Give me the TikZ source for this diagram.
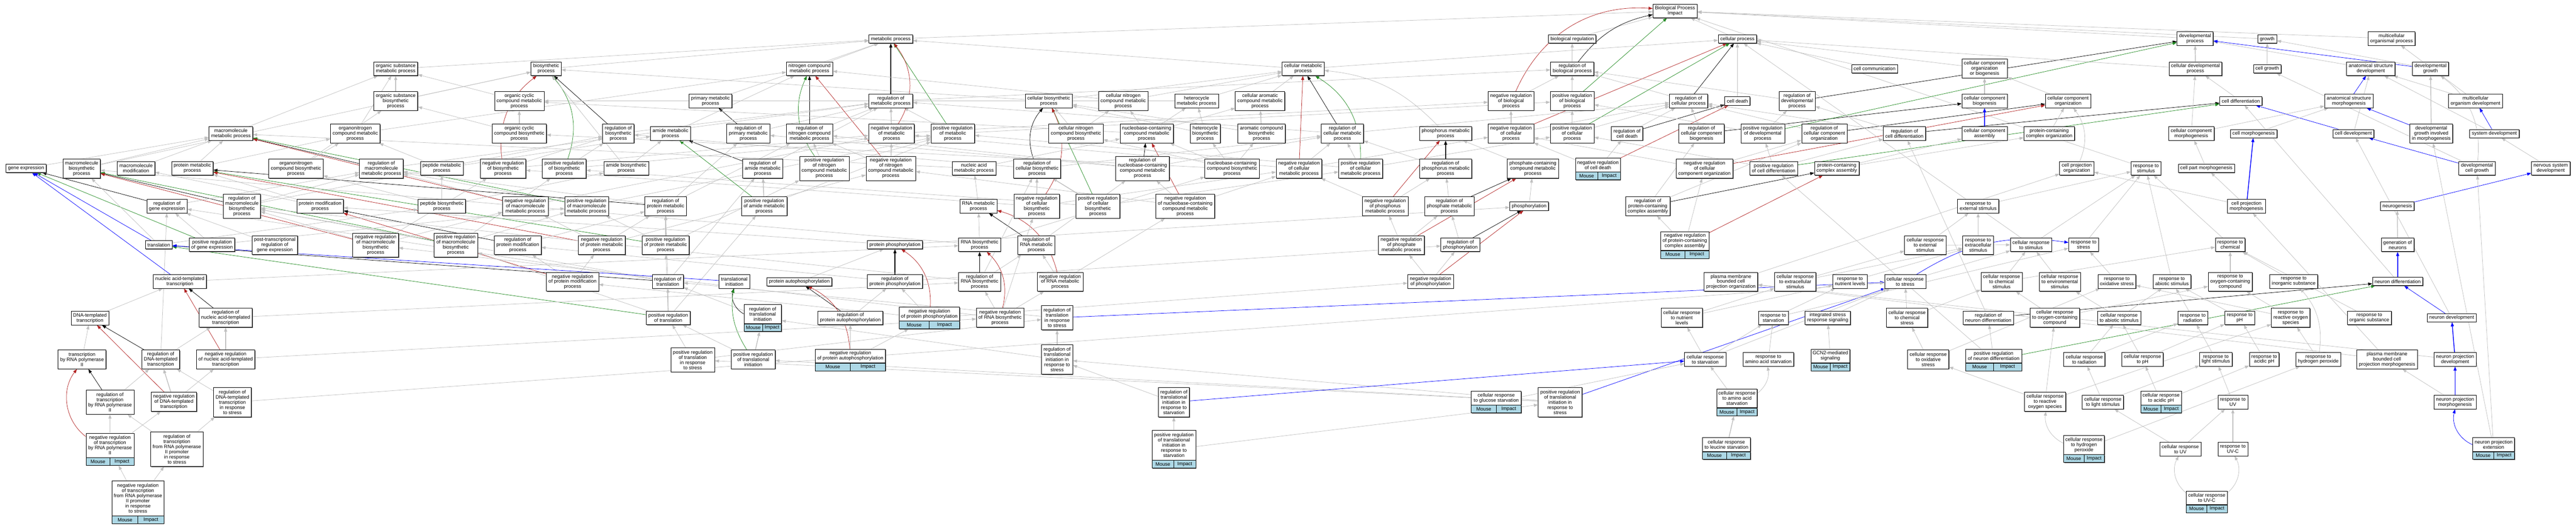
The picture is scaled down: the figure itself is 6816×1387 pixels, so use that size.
\documentclass[tikz,border=0pt]{standalone}
\usepackage{fontspec}
\setmainfont{Liberation Sans}
\usetikzlibrary{arrows.meta,shadows,fit}
\pgfdeclarelayer{bgfill}
\pgfdeclarelayer{edges}
\pgfsetlayers{bgfill,edges,main}
\definecolor{isagray}{RGB}{192,192,192}
\definecolor{negred}{RGB}{178,34,34}
\definecolor{posgreen}{RGB}{34,139,34}
\definecolor{partblue}{RGB}{0,0,255}
\definecolor{miblue}{RGB}{173,216,230}
\newcommand\gofont{\fontsize{13pt}{13.6pt}\selectfont}
\tikzset{
  goshadow/.style={drop shadow={shadow xshift=1.6pt,shadow yshift=-1.6pt,fill=black!60,opacity=1}},
  gobox/.style={draw=black,line width=1pt,fill=white,align=center,font=\gofont,inner xsep=5.5pt,inner ysep=1pt,goshadow},
  l1/.style={minimum height=22pt},
  l2/.style={minimum height=36pt},
  l3/.style={minimum height=50pt},
  l4/.style={minimum height=64pt},
  l5/.style={minimum height=78pt},
  l6/.style={minimum height=92pt},
  mcell/.style={draw=black,line width=1pt,fill=miblue,font=\gofont,minimum height=20pt,inner sep=0pt,goshadow},
  goedge/.style={line width=1pt,-{Triangle[length=11pt,width=8pt]}},
  eisa/.style={goedge,draw=isagray},
  ereg/.style={goedge,draw=black},
  eneg/.style={goedge,draw=negred},
  epos/.style={goedge,draw=posgreen},
  epart/.style={goedge,draw=partblue},
  thk/.style={line width=2pt},
}
\newcommand\GN[5]{\node[gobox,#4] (#1) at (#2,#3) {#5};}
\newcommand\MI[6]{%
  \node[gobox,#5,minimum width=#4pt,inner xsep=2pt] (#1T) at (#2,#3) {#6};
  \node[mcell,minimum width=#4pt/2,anchor=north west] (#1M) at (#1T.south west) {Mouse};
  \node[mcell,minimum width=#4pt/2,anchor=north east] (#1I) at (#1T.south east) {Impact};
  \node[fit=(#1T)(#1M)(#1I),inner sep=0pt] (#1) {};}
\newcommand\ED[3]{\draw[#1] (#2) to (#3);}
\begin{document}
\begin{tikzpicture}[x=1pt,y=-1pt]
\useasboundingbox (0,0) rectangle (6816,1387);
\begin{pgfonlayer}{bgfill}
\fill[white] (0,0) rectangle (6816,1387);
\end{pgfonlayer}
% ---------------- nodes
\GN{BP}{4432}{29}{l2}{Biological Process\\Impact}
\GN{metab}{2357}{103}{l1}{metabolic process}
\GN{bioreg}{4160}{103}{l1}{biological regulation}
\GN{cellproc}{4597}{103}{l1}{cellular process}
\GN{devproc}{5808}{102}{l2}{developmental\\process}
\GN{growth}{5999}{103}{l1}{growth}
\GN{mcop}{6328}{102}{l2}{multicellular\\organismal process}
\GN{osmp}{1047}{182}{l2}{organic substance\\metabolic process}
\GN{biosyn}{1445}{182}{l2}{biosynthetic\\process}
\GN{ncmp}{2142}{182}{l2}{nitrogen compound\\metabolic process}
\GN{cellmetab}{3448}{182}{l2}{cellular metabolic\\process}
\GN{regbio}{4160}{182}{l2}{regulation of\\biological process}
\GN{cellcomm}{4960}{182}{l1}{cell communication}
\GN{ccoob}{5251}{181}{l3}{cellular component\\organization\\or biogenesis}
\GN{celldevproc}{5809}{182}{l2}{cellular developmental\\process}
\GN{cellgrowth}{5999}{182}{l1}{cell growth}
\GN{asd}{6273}{182}{l2}{anatomical structure\\development}
\GN{devgrowth}{6431}{182}{l2}{developmental\\growth}
\GN{osb}{1047}{267}{l3}{organic substance\\biosynthetic\\process}
\GN{ocmp}{1374}{267}{l3}{organic cyclic\\compound metabolic\\process}
\GN{primary}{1880}{267}{l2}{primary metabolic\\process}
\GN{regmetab}{2357}{267}{l2}{regulation of\\metabolic process}
\GN{cellbiosyn}{2775}{267}{l2}{cellular biosynthetic\\process}
\GN{cncmp}{2972}{267}{l3}{cellular nitrogen\\compound metabolic\\process}
\GN{hetmp}{3166}{267}{l2}{heterocycle\\metabolic process}
\GN{camp}{3334}{267}{l3}{cellular aromatic\\compound metabolic\\process}
\GN{negregbio}{3998}{267}{l3}{negative regulation\\of biological\\process}
\GN{posregbio}{4160}{267}{l3}{positive regulation\\of biological\\process}
\GN{regcellproc}{4468}{267}{l2}{regulation of\\cellular process}
\GN{celldeath}{4597}{267}{l1}{cell death}
\GN{regdev}{4755}{267}{l3}{regulation of\\developmental\\process}
\GN{ccb}{5251}{267}{l2}{cellular component\\biogenesis}
\GN{cco}{5472}{267}{l2}{cellular component\\organization}
\GN{celldiff}{5929}{267}{l1}{cell differentiation}
\GN{asm}{6215}{267}{l2}{anatomical structure\\morphogenesis}
\GN{mod}{6550}{267}{l2}{multicellular\\organism development}
\GN{mmp}{611}{353}{l2}{macromolecule\\metabolic process}
\GN{onmp}{940}{353}{l3}{organonitrogen\\compound metabolic\\process}
\GN{ocb}{1374}{353}{l3}{organic cyclic\\compound biosynthetic\\process}
\GN{regbiosyn}{1636}{353}{l3}{regulation of\\biosynthetic\\process}
\GN{amide}{1774}{353}{l2}{amide metabolic\\process}
\GN{regprimary}{1980}{353}{l3}{regulation of\\primary metabolic\\process}
\GN{regncmp}{2142}{353}{l3}{regulation of\\nitrogen compound\\metabolic process}
\GN{negregmetab}{2359}{353}{l3}{negative regulation\\of metabolic\\process}
\GN{posregmetab}{2521}{353}{l3}{positive regulation\\of metabolic\\process}
\GN{cncb}{2847}{353}{l3}{cellular nitrogen\\compound biosynthetic\\process}
\GN{ncmpnuc}{3034}{353}{l3}{nucleobase-containing\\compound metabolic\\process}
\GN{hetb}{3189}{353}{l3}{heterocycle\\biosynthetic\\process}
\GN{acb}{3338}{353}{l3}{aromatic compound\\biosynthetic\\process}
\GN{regcellmetab}{3552}{353}{l3}{regulation of\\cellular metabolic\\process}
\GN{phosphorus}{3825}{353}{l2}{phosphorus metabolic\\process}
\GN{negregcell}{3998}{353}{l3}{negative regulation\\of cellular\\process}
\GN{posregcell}{4160}{353}{l3}{positive regulation\\of cellular\\process}
\GN{regcelldeath}{4305}{353}{l2}{regulation of\\cell death}
\GN{regccb}{4502}{353}{l3}{regulation of\\cellular component\\biogenesis}
\GN{posregdev}{4664}{353}{l3}{positive regulation\\of developmental\\process}
\GN{regcco}{4827}{353}{l3}{regulation of\\cellular component\\organization}
\GN{regcelldiff}{5039}{353}{l2}{regulation of\\cell differentiation}
\GN{cca}{5251}{353}{l2}{cellular component\\assembly}
\GN{pcco}{5422}{353}{l2}{protein-containing\\complex organization}
\GN{ccm}{5798}{353}{l2}{cellular component\\morphogenesis}
\GN{cellmorph}{5963}{353}{l1}{cell morphogenesis}
\GN{celldev}{6227}{353}{l1}{cell development}
\GN{dgim}{6433}{353}{l3}{developmental\\growth involved\\in morphogenesis}
\GN{sysdev}{6600}{353}{l1}{system development}
\GN{geneexp}{69}{445}{l1}{gene expression}
\GN{mbp}{216}{446}{l3}{macromolecule\\biosynthetic\\process}
\GN{macromod}{360}{445}{l2}{macromolecule\\modification}
\GN{protmp}{509}{445}{l2}{protein metabolic\\process}
\GN{onb}{783}{446}{l3}{organonitrogen\\compound biosynthetic\\process}
\GN{regmmp}{1009}{446}{l3}{regulation of\\macromolecule\\metabolic process}
\GN{peptidemp}{1169}{445}{l2}{peptide metabolic\\process}
\GN{negregbiosyn}{1331}{446}{l3}{negative regulation\\of biosynthetic\\process}
\GN{posregbiosyn}{1493}{446}{l3}{positive regulation\\of biosynthetic\\process}
\GN{amideb}{1657}{445}{l2}{amide biosynthetic\\process}
\GN{regamide}{2018}{446}{l3}{regulation of\\amide metabolic\\process}
\GN{posregncmp}{2181}{445}{l4}{positive regulation\\of nitrogen\\compound metabolic\\process}
\GN{negregncmp}{2357}{445}{l4}{negative regulation\\of nitrogen\\compound metabolic\\process}
\GN{namp}{2577}{445}{l2}{nucleic acid\\metabolic process}
\GN{regcellbiosyn}{2744}{446}{l3}{regulation of\\cellular biosynthetic\\process}
\GN{regnuc}{3023}{445}{l4}{regulation of\\nucleobase-containing\\compound metabolic\\process}
\GN{nucb}{3260}{446}{l3}{nucleobase-containing\\compound biosynthetic\\process}
\GN{negregcellmetab}{3437}{446}{l3}{negative regulation\\of cellular\\metabolic process}
\GN{posregcellmetab}{3600}{446}{l3}{positive regulation\\of cellular\\metabolic process}
\GN{regphosphorus}{3825}{446}{l3}{regulation of\\phosphorus metabolic\\process}
\GN{pccmp}{4056}{446}{l3}{phosphate-containing\\compound metabolic\\process}
\MI{negregcelldeath}{4228}{436}{119}{l2}{negative regulation\\of cell death}
\GN{negregcco}{4510}{446}{l3}{negative regulation\\of cellular\\component organization}
\GN{posregcelldiff}{4693}{445}{l2}{positive regulation\\of cell differentiation}
\GN{pcca}{4860}{445}{l2}{protein-containing\\complex assembly}
\GN{cpo}{5495}{445}{l2}{cell projection\\organization}
\GN{respstim}{5678}{445}{l2}{response to\\stimulus}
\GN{cellpartmorph}{5838}{445}{l1}{cell part morphogenesis}
\GN{devcellgrowth}{6554}{445}{l2}{developmental\\cell growth}
\GN{nsd}{6749}{445}{l2}{nervous system\\development}
\GN{reggene}{442}{545}{l2}{regulation of\\gene expression}
\GN{regmbp}{640}{545}{l4}{regulation of\\macromolecule\\biosynthetic\\process}
\GN{protmod}{847}{545}{l2}{protein modification\\process}
\GN{peptideb}{1169}{545}{l2}{peptide biosynthetic\\process}
\GN{negregmmp}{1390}{545}{l3}{negative regulation\\of macromolecule\\metabolic process}
\GN{posregmmp}{1552}{545}{l3}{positive regulation\\of macromolecule\\metabolic process}
\GN{regprotmp}{1761}{545}{l3}{regulation of\\protein metabolic\\process}
\GN{posregamide}{2022}{545}{l3}{positive regulation\\of amide metabolic\\process}
\GN{rnamp}{2589}{545}{l2}{RNA metabolic\\process}
\GN{negregcellbiosyn}{2743}{545}{l4}{negative regulation\\of cellular\\biosynthetic\\process}
\GN{posregcellbiosyn}{2905}{545}{l4}{positive regulation\\of cellular\\biosynthetic\\process}
\GN{negregnuc}{3136}{545}{l4}{negative regulation\\of nucleobase-containing\\compound metabolic\\process}
\GN{negregphosphorus}{3665}{545}{l3}{negative regulation\\of phosphorus\\metabolic process}
\GN{regphosphate}{3835}{545}{l3}{regulation of\\phosphate metabolic\\process}
\GN{phosphorylation}{4046}{545}{l1}{phosphorylation}
\GN{regpcca}{4360}{545}{l3}{regulation of\\protein-containing\\complex assembly}
\GN{respext}{5234}{545}{l2}{response to\\external stimulus}
\GN{cellprojmorph}{5944}{545}{l2}{cell projection\\morphogenesis}
\GN{neurogenesis}{6343}{545}{l1}{neurogenesis}
\GN{translation}{420}{647}{l1}{translation}
\GN{posreggene}{561}{647}{l2}{positive regulation\\of gene expression}
\GN{ptrge}{727}{648}{l3}{post-transcriptional\\regulation of\\gene expression}
\GN{negregmbp}{994}{648}{l4}{negative regulation\\of macromolecule\\biosynthetic\\process}
\GN{posregmbp}{1206}{648}{l4}{positive regulation\\of macromolecule\\biosynthetic\\process}
\GN{regprotmod}{1370}{648}{l3}{regulation of\\protein modification\\process}
\GN{negregprotmp}{1592}{648}{l3}{negative regulation\\of protein metabolic\\process}
\GN{posregprotmp}{1761}{648}{l3}{positive regulation\\of protein metabolic\\process}
\GN{protphos}{2368}{647}{l1}{protein phosphorylation}
\GN{rnab}{2592}{647}{l2}{RNA biosynthetic\\process}
\GN{regrnamp}{2742}{648}{l3}{regulation of\\RNA metabolic\\process}
\GN{negregphosphate}{3708}{648}{l3}{negative regulation\\of phosphate\\metabolic process}
\GN{regphosphorylation}{3864}{647}{l2}{regulation of\\phosphorylation}
\MI{negregpcca}{4458}{637}{127}{l3}{negative regulation\\of protein-containing\\complex assembly}
\GN{crext}{5094}{648}{l3}{cellular response\\to external\\stimulus}
\GN{respextra}{5234}{648}{l3}{response to\\extracellular\\stimulus}
\GN{crstim}{5374}{647}{l2}{cellular response\\to stimulus}
\GN{respstress}{5513}{647}{l2}{response to\\stress}
\GN{respchem}{5901}{647}{l2}{response to\\chemical}
\GN{genneurons}{6344}{647}{l2}{generation of\\neurons}
\GN{natt}{476}{744}{l2}{nucleic acid-templated\\transcription}
\GN{negregprotmod}{1515}{745}{l3}{negative regulation\\of protein modification\\process}
\GN{regtranslation}{1767}{744}{l2}{regulation of\\translation}
\GN{transinit}{1943}{744}{l2}{translational\\initiation}
\GN{protautop}{2115}{745}{l1}{protein autophosphorylation}
\GN{regprotphos}{2368}{744}{l2}{regulation of\\protein phosphorylation}
\GN{regrnab}{2592}{745}{l3}{regulation of\\RNA biosynthetic\\process}
\GN{negregrnamp}{2805}{745}{l3}{negative regulation\\of RNA metabolic\\process}
\GN{negregphosphorylation}{3785}{744}{l2}{negative regulation\\of phosphorylation}
\GN{pmbcpo}{4580}{745}{l3}{plasma membrane\\bounded cell\\projection organization}
\GN{crextra}{4750}{745}{l3}{cellular response\\to extracellular\\stimulus}
\GN{respnutr}{4895}{744}{l2}{response to\\nutrient levels}
\GN{crstress}{5041}{744}{l2}{cellular response\\to stress}
\GN{crchemstim}{5296}{745}{l3}{cellular response\\to chemical\\stimulus}
\GN{crenv}{5450}{745}{l3}{cellular response\\to environmental\\stimulus}
\GN{respox}{5601}{744}{l2}{response to\\oxidative stress}
\GN{respabiotic}{5747}{744}{l2}{response to\\abiotic stimulus}
\GN{respoxy}{5901}{745}{l3}{response to\\oxygen-containing\\compound}
\GN{respinorg}{6069}{744}{l2}{response to\\inorganic substance}
\GN{neurondiff}{6344}{744}{l1}{neuron differentiation}
\GN{dnatt}{238}{841}{l2}{DNA-templated\\transcription}
\GN{regnatt}{597}{840}{l3}{regulation of\\nucleic acid-templated\\transcription}
\GN{posregtranslation}{1768}{840}{l2}{positive regulation\\of translation}
\MI{regtransinit}{2018}{830}{99}{l3}{regulation of\\translational\\initiation}
\GN{regprotautop}{2250}{840}{l2}{regulation of\\protein autophosphorylation}
\MI{negregprotphos}{2459}{830}{160}{l2}{negative regulation\\of protein phosphorylation}
\GN{negregrnab}{2646}{840}{l3}{negative regulation\\of RNA biosynthetic\\process}
\GN{regtransstress}{2797}{840}{l4}{regulation of\\translation\\in response\\to stress}
\GN{crnutr}{4450}{840}{l3}{cellular response\\to nutrient\\levels}
\GN{respstarv}{4692}{840}{l2}{response to\\starvation}
\GN{isr}{4836}{840}{l2}{integrated stress\\response signaling}
\GN{crchemstress}{5046}{840}{l3}{cellular response\\to chemical\\stress}
\GN{regneurondiff}{5261}{840}{l2}{regulation of\\neuron differentiation}
\GN{croxy}{5437}{840}{l3}{cellular response\\to oxygen-containing\\compound}
\GN{crabiotic}{5607}{840}{l2}{cellular response\\to abiotic stimulus}
\GN{respradiation}{5802}{840}{l2}{response to\\radiation}
\GN{respph}{5926}{840}{l2}{response to\\pH}
\GN{resproS}{6061}{840}{l3}{response to\\reactive oxygen\\species}
\GN{resporg}{6269}{840}{l2}{response to\\organic substance}
\GN{neurondev}{6487}{840}{l1}{neuron development}
\GN{txpol2}{217}{950}{l3}{transcription\\by RNA polymerase\\II}
\GN{regdnatt}{425}{950}{l3}{regulation of\\DNA-templated\\transcription}
\GN{negregnatt}{597}{950}{l3}{negative regulation\\of nucleic acid-templated\\transcription}
\GN{posregtransstress}{1833}{951}{l4}{positive regulation\\of translation\\in response\\to stress}
\GN{posregtransinit}{1993}{950}{l3}{positive regulation\\of translational\\initiation}
\MI{negregprotautop}{2250}{941}{186}{l2}{negative regulation\\of protein autophosphorylation}
\GN{regtistress}{2797}{950}{l5}{regulation of\\translational\\initiation in\\response to\\stress}
\GN{crstarv}{4512}{950}{l2}{cellular response\\to starvation}
\GN{respaa}{4679}{950}{l2}{response to\\amino acid starvation}
\MI{gcn2}{4843}{941}{103}{l2}{GCN2-mediated\\signaling}
\GN{croxstress}{5102}{950}{l3}{cellular response\\to oxidative\\stress}
\MI{posregneurondiff}{5275}{941}{148}{l2}{positive regulation\\of neuron differentiation}
\GN{crradiation}{5515}{950}{l2}{cellular response\\to radiation}
\GN{crph}{5669}{950}{l2}{cellular response\\to pH}
\GN{resplight}{5863}{950}{l2}{response to\\light stimulus}
\GN{respacidic}{5991}{950}{l2}{response to\\acidic pH}
\GN{resph2o2}{6134}{950}{l2}{response to\\hydrogen peroxide}
\GN{pmbcpm}{6316}{950}{l3}{plasma membrane\\bounded cell\\projection morphogenesis}
\GN{neuronprojdev}{6496}{950}{l2}{neuron projection\\development}
\GN{regtxpol2}{291}{1063}{l4}{regulation of\\transcription\\by RNA polymerase\\II}
\GN{negregdnatt}{460}{1062}{l3}{negative regulation\\of DNA-templated\\transcription}
\GN{regdnattstress}{615}{1063}{l5}{regulation of\\DNA-templated\\transcription\\in response\\to stress}
\GN{regtistarv}{3106}{1063}{l5}{regulation of\\translational\\initiation in\\response to\\starvation}
\MI{crglucose}{3959}{1052}{132}{l2}{cellular response\\to glucose starvation}
\GN{posregtistress}{4128}{1063}{l5}{positive regulation\\of translational\\initiation in\\response to\\stress}
\MI{craa}{4596}{1053}{107}{l3}{cellular response\\to amino acid\\starvation}
\GN{crros}{5411}{1062}{l3}{cellular response\\to reactive\\oxygen species}
\GN{crlight}{5564}{1063}{l2}{cellular response\\to light stimulus}
\MI{cracidic}{5718}{1052}{108}{l2}{cellular response\\to acidic pH}
\GN{respuv}{5908}{1063}{l2}{response to\\UV}
\GN{neuronprojmorph}{6496}{1063}{l2}{neuron projection\\morphogenesis}
\MI{negregtxpol2}{291}{1177}{127}{l4}{negative regulation\\of transcription\\by RNA polymerase\\II}
\GN{regtxpol2stress}{468}{1187}{l6}{regulation of\\transcription\\from RNA polymerase\\II promoter\\in response\\to stress}
\MI{posregtistarv}{3106}{1177}{116}{l5}{positive regulation\\of translational\\initiation in\\response to\\starvation}
\MI{crleucine}{4568}{1175}{127}{l2}{cellular response\\to leucine starvation}
\MI{crhtwoo}{5514}{1176}{108}{l3}{cellular response\\to hydrogen\\peroxide}
\GN{cruv}{5769}{1187}{l2}{cellular response\\to UV}
\GN{respuvc}{5908}{1187}{l2}{response to\\UV-C}
\MI{neuronprojext}{6598}{1175}{111}{l2}{neuron projection\\extension}
\MI{negregtxstress}{365}{1317}{137}{l6}{negative regulation\\of transcription\\from RNA polymerase\\II promoter\\in response\\to stress}
\MI{cruvc}{5839}{1316}{108}{l2}{cellular response\\to UV-C}
% ---------------- edges
\begin{pgfonlayer}{edges}
\ED{eisa}{metab}{BP}
\ED{eisa}{bioreg}{BP}
\ED{eisa}{cellproc}{BP}
\ED{eisa}{devproc}{BP}
\ED{eisa}{growth}{BP}
\ED{eisa}{mcop}{BP}
\ED{eisa}{respstim}{BP}
\ED{ereg,bend left=20}{regbio}{BP}
\ED{eneg,bend left=35}{negregbio}{BP}
\ED{epos}{posregbio}{BP}
\ED{eisa,thk}{regbio}{bioreg}
\ED{eisa,thk}{posregbio}{regbio}
\ED{eisa}{negregbio}{regbio}
\ED{eisa}{regcellproc}{regbio}
\ED{ereg}{regcellproc}{cellproc}
\ED{eisa,thk}{posregcell}{posregbio}
\ED{eisa}{posregcell}{regcellproc}
\ED{epos}{posregcell}{cellproc}
\ED{eisa,thk}{negregcell}{negregbio}
\ED{eisa}{negregcell}{regcellproc}
\ED{eneg}{negregcell}{cellproc}
\ED{eisa}{ccoob}{cellproc}
\ED{eisa}{cellcomm}{cellproc}
\ED{eisa,thk}{celldeath}{cellproc}
\ED{eisa}{regmetab}{regbio}
\ED{ereg,thk}{regmetab}{metab}
\ED{eisa}{posregmetab}{regmetab}
\ED{eisa}{posregmetab}{posregbio}
\ED{epos}{posregmetab}{metab}
\ED{eisa,thk}{negregmetab}{regmetab}
\ED{eisa}{negregmetab}{negregbio}
\ED{eneg,bend right=35}{negregmetab}{metab}
\ED{eisa}{cellmetab}{metab}
\ED{eisa}{cellmetab}{cellproc}
\ED{eisa}{primary}{metab}
\ED{eisa}{osmp}{metab}
\ED{eisa}{ncmp}{metab}
\ED{eisa}{biosyn}{metab}
\ED{eisa}{regcellmetab}{regmetab}
\ED{eisa}{regcellmetab}{regcellproc}
\ED{ereg}{regcellmetab}{cellmetab}
\ED{eisa}{posregcellmetab}{regcellmetab}
\ED{eisa}{posregcellmetab}{posregmetab}
\ED{eisa}{posregcellmetab}{posregcell}
\ED{epos,bend right=30}{posregcellmetab}{cellmetab}
\ED{eisa}{negregcellmetab}{regcellmetab}
\ED{eisa}{negregcellmetab}{negregmetab}
\ED{eisa}{negregcellmetab}{negregcell}
\ED{eneg}{negregcellmetab}{cellmetab}
\ED{eisa}{regprimary}{regmetab}
\ED{ereg}{regprimary}{primary}
\ED{eisa}{regncmp}{regmetab}
\ED{ereg,thk}{regncmp}{ncmp}
\ED{eisa}{posregncmp}{regncmp}
\ED{eisa}{posregncmp}{posregmetab}
\ED{epos,bend left=30}{posregncmp}{ncmp}
\ED{eisa}{negregncmp}{regncmp}
\ED{eisa,thk}{negregncmp}{negregmetab}
\ED{eneg}{negregncmp}{ncmp}
\ED{eisa}{regmmp}{regmetab}
\ED{ereg}{regmmp}{mmp}
\ED{eisa}{posregmmp}{regmmp}
\ED{eisa}{posregmmp}{posregmetab}
\ED{epos}{posregmmp}{mmp}
\ED{eisa}{negregmmp}{regmmp}
\ED{eisa}{negregmmp}{negregmetab}
\ED{eneg}{negregmmp}{mmp}
\ED{eisa}{regbiosyn}{regmetab}
\ED{ereg}{regbiosyn}{biosyn}
\ED{eisa}{posregbiosyn}{regbiosyn}
\ED{eisa}{posregbiosyn}{posregmetab}
\ED{epos,bend right=30}{posregbiosyn}{biosyn}
\ED{eisa}{negregbiosyn}{regbiosyn}
\ED{eisa}{negregbiosyn}{negregmetab}
\ED{eneg,bend left=30}{negregbiosyn}{biosyn}
\ED{eisa}{regcellbiosyn}{regbiosyn}
\ED{eisa}{regcellbiosyn}{regcellmetab}
\ED{ereg,bend left=30}{regcellbiosyn}{cellbiosyn}
\ED{eisa,thk}{posregcellbiosyn}{regcellbiosyn}
\ED{eisa}{posregcellbiosyn}{posregbiosyn}
\ED{eisa}{posregcellbiosyn}{posregcellmetab}
\ED{epos}{posregcellbiosyn}{cellbiosyn}
\ED{eisa,thk}{negregcellbiosyn}{regcellbiosyn}
\ED{eisa}{negregcellbiosyn}{negregbiosyn}
\ED{eisa}{negregcellbiosyn}{negregcellmetab}
\ED{eneg,bend right=30}{negregcellbiosyn}{cellbiosyn}
\ED{eisa}{regmbp}{regmmp}
\ED{eisa}{regmbp}{regbiosyn}
\ED{ereg}{regmbp}{mbp}
\ED{eisa}{posregmbp}{regmbp}
\ED{eisa}{posregmbp}{posregmmp}
\ED{eisa}{posregmbp}{posregbiosyn}
\ED{epos}{posregmbp}{mbp}
\ED{eisa}{negregmbp}{regmbp}
\ED{eisa}{negregmbp}{negregmmp}
\ED{eisa}{negregmbp}{negregbiosyn}
\ED{eneg}{negregmbp}{mbp}
\ED{eisa}{reggene}{regmmp}
\ED{ereg}{reggene}{geneexp}
\ED{eisa}{posreggene}{reggene}
\ED{eisa}{posreggene}{posregmmp}
\ED{epos}{posreggene}{geneexp}
\ED{eisa}{ptrge}{reggene}
\ED{eisa}{regprotmp}{regmmp}
\ED{eisa}{regprotmp}{regprimary}
\ED{eisa}{regprotmp}{regncmp}
\ED{ereg}{regprotmp}{protmp}
\ED{eisa,thk}{posregprotmp}{regprotmp}
\ED{eisa}{posregprotmp}{posregmmp}
\ED{eisa}{posregprotmp}{posregncmp}
\ED{epos}{posregprotmp}{protmp}
\ED{eisa}{negregprotmp}{regprotmp}
\ED{eisa}{negregprotmp}{negregmmp}
\ED{eisa}{negregprotmp}{negregncmp}
\ED{eneg}{negregprotmp}{protmp}
\ED{eisa}{regprotmod}{regprotmp}
\ED{ereg}{regprotmod}{protmod}
\ED{eisa}{negregprotmod}{regprotmod}
\ED{eisa}{negregprotmod}{negregprotmp}
\ED{eneg}{negregprotmod}{protmod}
\ED{eisa}{regamide}{regmetab}
\ED{ereg}{regamide}{amide}
\ED{eisa,thk}{posregamide}{regamide}
\ED{eisa}{posregamide}{posregmetab}
\ED{epos}{posregamide}{amide}
\ED{eisa}{regtranslation}{reggene}
\ED{eisa}{regtranslation}{regamide}
\ED{eisa}{regtranslation}{regmbp}
\ED{eisa}{regtranslation}{regprotmp}
\ED{ereg}{regtranslation}{translation}
\ED{eisa,thk}{posregtranslation}{regtranslation}
\ED{eisa}{posregtranslation}{posregamide}
\ED{eisa}{posregtranslation}{posregmbp}
\ED{eisa}{posregtranslation}{posregprotmp}
\ED{epos}{posregtranslation}{translation}
\ED{eisa}{posregtransstress}{posregtranslation}
\ED{eisa}{posregtransstress}{regtransstress}
\ED{eisa}{regtransinit}{regtranslation}
\ED{ereg,bend left=40}{regtransinit}{transinit}
\ED{eisa,thk}{posregtransinit}{regtransinit}
\ED{eisa}{posregtransinit}{posregtranslation}
\ED{epos,bend left=20}{posregtransinit}{transinit}
\ED{eisa}{regtransstress}{regtranslation}
\ED{epart}{regtransstress}{crstress}
\ED{eisa,thk}{regtistress}{regtransstress}
\ED{eisa}{regtistress}{regtransinit}
\ED{eisa}{posregtistress}{regtistress}
\ED{eisa}{posregtistress}{posregtransstress}
\ED{eisa}{posregtistress}{posregtransinit}
\ED{epart}{posregtistress}{crstress}
\ED{eisa}{regtistarv}{regtistress}
\ED{epart}{regtistarv}{crstarv}
\ED{eisa,thk}{posregtistarv}{regtistarv}
\ED{eisa}{posregtistarv}{posregtistress}
\ED{eisa}{regprotphos}{regprotmod}
\ED{eisa}{regprotphos}{regphosphorylation}
\ED{ereg,thk}{regprotphos}{protphos}
\ED{eisa}{negregprotphos}{regprotphos}
\ED{eisa}{negregprotphos}{negregprotmod}
\ED{eisa}{negregprotphos}{negregphosphorylation}
\ED{eneg,bend right=30}{negregprotphos}{protphos}
\ED{eisa}{regprotautop}{regprotphos}
\ED{ereg}{regprotautop}{protautop}
\ED{eisa,thk}{negregprotautop}{regprotautop}
\ED{eisa}{negregprotautop}{negregprotphos}
\ED{eneg,bend right=30}{negregprotautop}{protautop}
\ED{eisa}{regphosphorus}{regcellmetab}
\ED{ereg,thk}{regphosphorus}{phosphorus}
\ED{eisa}{negregphosphorus}{regphosphorus}
\ED{eisa}{negregphosphorus}{negregcellmetab}
\ED{eneg}{negregphosphorus}{phosphorus}
\ED{eisa}{regphosphate}{regphosphorus}
\ED{ereg}{regphosphate}{pccmp}
\ED{eisa}{negregphosphate}{regphosphate}
\ED{eisa}{negregphosphate}{negregphosphorus}
\ED{eneg}{negregphosphate}{pccmp}
\ED{eisa}{regphosphorylation}{regphosphate}
\ED{ereg}{regphosphorylation}{phosphorylation}
\ED{eisa}{negregphosphorylation}{regphosphorylation}
\ED{eisa}{negregphosphorylation}{negregphosphate}
\ED{eneg}{negregphosphorylation}{phosphorylation}
\ED{eisa}{regnuc}{regcellmetab}
\ED{eisa}{regnuc}{regncmp}
\ED{eisa}{regnuc}{regprimary}
\ED{ereg}{regnuc}{ncmpnuc}
\ED{eisa}{negregnuc}{regnuc}
\ED{eisa}{negregnuc}{negregcellmetab}
\ED{eisa}{negregnuc}{negregncmp}
\ED{eneg}{negregnuc}{ncmpnuc}
\ED{eisa}{regrnamp}{regnuc}
\ED{ereg}{regrnamp}{rnamp}
\ED{eisa}{negregrnamp}{regrnamp}
\ED{eisa}{negregrnamp}{negregnuc}
\ED{eneg,bend right=30}{negregrnamp}{rnamp}
\ED{eisa}{regrnab}{regrnamp}
\ED{eisa}{regrnab}{regcellbiosyn}
\ED{eisa}{regrnab}{regmbp}
\ED{ereg,thk}{regrnab}{rnab}
\ED{eisa}{negregrnab}{regrnab}
\ED{eisa}{negregrnab}{negregrnamp}
\ED{eisa}{negregrnab}{negregcellbiosyn}
\ED{eisa}{negregrnab}{negregmbp}
\ED{eneg,bend right=30}{negregrnab}{rnab}
\ED{eisa}{regnatt}{regrnab}
\ED{ereg}{regnatt}{natt}
\ED{eisa,thk}{negregnatt}{regnatt}
\ED{eisa}{negregnatt}{negregrnab}
\ED{eneg}{negregnatt}{natt}
\ED{eisa}{regdnatt}{regnatt}
\ED{eisa}{regdnatt}{reggene}
\ED{ereg}{regdnatt}{dnatt}
\ED{eisa,thk}{negregdnatt}{regdnatt}
\ED{eisa}{negregdnatt}{negregnatt}
\ED{eneg}{negregdnatt}{dnatt}
\ED{eisa}{regtxpol2}{regdnatt}
\ED{ereg}{regtxpol2}{txpol2}
\ED{eisa,thk}{negregtxpol2}{regtxpol2}
\ED{eisa}{negregtxpol2}{negregdnatt}
\ED{eneg,bend left=45}{negregtxpol2}{txpol2}
\ED{eisa}{regdnattstress}{regdnatt}
\ED{eisa}{regdnattstress}{crstress}
\ED{eisa}{regtxpol2stress}{regtxpol2}
\ED{eisa}{regtxpol2stress}{regdnattstress}
\ED{eisa}{negregtxstress}{negregtxpol2}
\ED{eisa}{negregtxstress}{regtxpol2stress}
\ED{eisa}{regcelldeath}{regcellproc}
\ED{ereg}{regcelldeath}{celldeath}
\ED{eisa}{negregcelldeath}{regcelldeath}
\ED{eisa}{negregcelldeath}{negregcell}
\ED{eneg}{negregcelldeath}{celldeath}
\ED{eisa}{regccb}{regcellproc}
\ED{ereg}{regccb}{ccb}
\ED{eisa}{regcco}{regcellproc}
\ED{ereg}{regcco}{cco}
\ED{eisa}{negregcco}{regcco}
\ED{eisa}{negregcco}{negregcell}
\ED{eneg}{negregcco}{cco}
\ED{eisa}{regpcca}{regccb}
\ED{eisa}{regpcca}{regcco}
\ED{ereg}{regpcca}{pcca}
\ED{eisa}{negregpcca}{regpcca}
\ED{eisa}{negregpcca}{negregcco}
\ED{eneg}{negregpcca}{pcca}
\ED{eisa}{regdev}{regbio}
\ED{ereg}{regdev}{devproc}
\ED{eisa}{posregdev}{regdev}
\ED{eisa}{posregdev}{posregbio}
\ED{epos}{posregdev}{devproc}
\ED{eisa}{regcelldiff}{regdev}
\ED{eisa}{regcelldiff}{regcellproc}
\ED{ereg}{regcelldiff}{celldiff}
\ED{eisa}{posregcelldiff}{regcelldiff}
\ED{eisa}{posregcelldiff}{posregdev}
\ED{eisa}{posregcelldiff}{posregcell}
\ED{epos}{posregcelldiff}{celldiff}
\ED{eisa}{regneurondiff}{regcelldiff}
\ED{ereg}{regneurondiff}{neurondiff}
\ED{eisa}{posregneurondiff}{regneurondiff}
\ED{eisa}{posregneurondiff}{posregcelldiff}
\ED{epos}{posregneurondiff}{neurondiff}
% metabolism is_a
\ED{eisa,thk}{osb}{osmp}
\ED{eisa}{osb}{biosyn}
\ED{eisa}{mmp}{osmp}
\ED{eisa}{mbp}{mmp}
\ED{eisa}{mbp}{biosyn}
\ED{eisa}{geneexp}{mmp}
\ED{eisa}{macromod}{mmp}
\ED{eisa}{protmp}{mmp}
\ED{eisa}{protmp}{onmp}
\ED{eisa}{onmp}{osmp}
\ED{eisa}{onmp}{ncmp}
\ED{eisa}{onb}{onmp}
\ED{eisa}{onb}{osb}
\ED{eisa}{peptidemp}{amide}
\ED{eisa}{peptidemp}{onmp}
\ED{eisa,thk}{peptideb}{peptidemp}
\ED{eisa}{peptideb}{amideb}
\ED{eisa}{peptideb}{onb}
\ED{eisa}{amide}{ncmp}
\ED{eisa}{amideb}{amide}
\ED{eisa}{amideb}{biosyn}
\ED{eisa}{protmod}{macromod}
\ED{eisa}{protmod}{protmp}
\ED{eisa}{translation}{peptideb}
\ED{eisa}{translation}{mbp}
\ED{epart}{translation}{geneexp}
\ED{epart}{transinit}{translation}
\ED{eisa}{protphos}{protmod}
\ED{eisa}{protphos}{phosphorylation}
\ED{eisa}{protautop}{protphos}
\ED{eisa}{phosphorylation}{pccmp}
\ED{eisa}{pccmp}{phosphorus}
\ED{eisa,bend right=20}{phosphorus}{cellmetab}
\ED{eisa}{cellbiosyn}{biosyn}
\ED{eisa}{cellbiosyn}{cellmetab}
\ED{eisa}{cncmp}{cellmetab}
\ED{eisa}{cncmp}{ncmp}
\ED{eisa}{cncb}{cncmp}
\ED{eisa}{cncb}{cellbiosyn}
\ED{eisa}{hetmp}{cellmetab}
\ED{eisa}{hetmp}{ocmp}
\ED{eisa}{camp}{cellmetab}
\ED{eisa}{hetb}{hetmp}
\ED{eisa}{hetb}{cellbiosyn}
\ED{eisa,thk}{acb}{camp}
\ED{eisa}{acb}{cellbiosyn}
\ED{eisa}{ncmpnuc}{cncmp}
\ED{eisa}{ncmpnuc}{hetmp}
\ED{eisa}{ncmpnuc}{camp}
\ED{eisa}{ncmpnuc}{ocmp}
\ED{eisa}{nucb}{ncmpnuc}
\ED{eisa}{nucb}{hetb}
\ED{eisa}{nucb}{acb}
\ED{eisa}{nucb}{cncb}
\ED{eisa}{nucb}{ocb}
\ED{eisa}{namp}{ncmpnuc}
\ED{eisa}{namp}{mmp}
\ED{eisa}{rnamp}{namp}
\ED{eisa}{rnab}{rnamp}
\ED{eisa}{rnab}{nucb}
\ED{eisa}{rnab}{mbp}
\ED{eisa}{natt}{rnab}
\ED{epart}{natt}{geneexp}
\ED{eisa}{dnatt}{natt}
\ED{eisa}{txpol2}{dnatt}
\ED{eisa}{ocmp}{osmp}
\ED{eisa,thk}{ocb}{ocmp}
\ED{eisa}{ocb}{osb}
% responses
\ED{eisa}{crstim}{respstim}
\ED{eisa}{crstim}{cellproc}
\ED{eisa}{respstress}{respstim}
\ED{epart,bend left=20}{crstress}{respstress}
\ED{eisa}{crstress}{crstim}
\ED{eisa}{respext}{respstim}
\ED{eisa,thk}{respextra}{respext}
\ED{eisa}{crext}{respext}
\ED{eisa}{crext}{crstim}
\ED{eisa}{crextra}{respextra}
\ED{eisa}{crextra}{crext}
\ED{eisa}{respnutr}{respextra}
\ED{eisa}{crnutr}{respnutr}
\ED{eisa}{crnutr}{crextra}
\ED{eisa}{respstarv}{respnutr}
\ED{eisa}{respstarv}{respstress}
\ED{eisa}{crstarv}{respstarv}
\ED{eisa}{crstarv}{crnutr}
\ED{eisa}{crstarv}{crstress}
\ED{eisa}{respaa}{respstarv}
\ED{eisa,bend right=30}{craa}{respaa}
\ED{eisa}{craa}{crstarv}
\ED{eisa,thk}{crleucine}{craa}
\ED{eisa}{crglucose}{crstarv}
\ED{eisa}{isr}{crstress}
\ED{eisa}{gcn2}{isr}
\ED{eisa}{respchem}{respstim}
\ED{eisa}{crchemstim}{respchem}
\ED{eisa}{crchemstim}{crstim}
\ED{eisa}{crchemstress}{crstress}
\ED{eisa}{crchemstress}{crchemstim}
\ED{eisa}{respox}{respstress}
\ED{eisa}{croxstress}{respox}
\ED{eisa}{croxstress}{crchemstress}
\ED{eisa,thk}{respoxy}{respchem}
\ED{eisa}{croxy}{respoxy}
\ED{eisa}{croxy}{crchemstim}
\ED{eisa}{resproS}{respoxy}
\ED{eisa}{resproS}{respox}
\ED{eisa}{crros}{resproS}
\ED{eisa}{crros}{croxy}
\ED{eisa}{crros}{croxstress}
\ED{eisa}{resph2o2}{resproS}
\ED{eisa,bend right=25}{resph2o2}{respinorg}
\ED{eisa}{crhtwoo}{resph2o2}
\ED{eisa,bend left=35}{crhtwoo}{crros}
\ED{eisa}{respinorg}{respchem}
\ED{eisa}{resporg}{respchem}
\ED{eisa}{respabiotic}{respstim}
\ED{eisa}{crenv}{crstim}
\ED{eisa}{crabiotic}{respabiotic}
\ED{eisa}{crabiotic}{crenv}
\ED{eisa}{respradiation}{respabiotic}
\ED{eisa}{crradiation}{respradiation}
\ED{eisa}{crradiation}{crabiotic}
\ED{eisa}{resplight}{respradiation}
\ED{eisa}{crlight}{resplight}
\ED{eisa}{crlight}{crradiation}
\ED{eisa}{respuv}{resplight}
\ED{eisa}{cruv}{respuv}
\ED{eisa}{cruv}{crlight}
\ED{eisa,thk}{respuvc}{respuv}
\ED{eisa,bend left=40}{cruvc}{cruv}
\ED{eisa,bend right=40}{cruvc}{respuvc}
\ED{eisa}{respph}{respabiotic}
\ED{eisa}{respacidic}{respph}
\ED{eisa}{crph}{respph}
\ED{eisa}{crph}{crabiotic}
\ED{eisa}{cracidic}{respacidic}
\ED{eisa}{cracidic}{crph}
% development
\ED{eisa}{asd}{devproc}
\ED{eisa}{mod}{asd}
\ED{eisa}{mod}{mcop}
\ED{epart}{sysdev}{mod}
\ED{eisa}{sysdev}{asd}
\ED{eisa}{nsd}{sysdev}
\ED{eisa,thk}{celldevproc}{devproc}
\ED{eisa}{celldevproc}{cellproc}
\ED{eisa}{celldiff}{celldevproc}
\ED{eisa}{neurondiff}{celldiff}
\ED{epart,thk}{neurondiff}{genneurons}
\ED{eisa,thk}{genneurons}{neurogenesis}
\ED{epart}{neurogenesis}{nsd}
\ED{eisa}{celldev}{asd}
\ED{epart}{celldev}{celldiff}
\ED{eisa}{neurondev}{celldev}
\ED{epart}{neurondev}{neurondiff}
\ED{epart,thk}{neuronprojdev}{neurondev}
\ED{eisa}{neuronprojdev}{pmbcpo}
\ED{epart,thk}{neuronprojmorph}{neuronprojdev}
\ED{eisa}{neuronprojmorph}{pmbcpm}
\ED{epart,bend left=40}{neuronprojext}{neuronprojmorph}
\ED{eisa}{neuronprojext}{devcellgrowth}
\ED{eisa}{neuronprojext}{dgim}
\ED{epart}{asm}{asd}
\ED{eisa}{cellmorph}{asm}
\ED{epart,thk}{cellprojmorph}{cellmorph}
\ED{eisa}{ccm}{celldevproc}
\ED{eisa}{ccm}{asm}
\ED{eisa}{cellpartmorph}{ccm}
\ED{eisa}{cellprojmorph}{cellpartmorph}
\ED{eisa}{cellprojmorph}{cpo}
\ED{eisa}{pmbcpm}{cellprojmorph}
\ED{eisa}{pmbcpm}{pmbcpo}
\ED{eisa}{pmbcpo}{cpo}
\ED{eisa,bend right=30}{cpo}{cco}
\ED{eisa}{cco}{ccoob}
\ED{eisa,thk}{ccb}{ccoob}
\ED{epart,thk}{cca}{ccb}
\ED{eisa}{pcco}{cco}
\ED{eisa}{pcca}{cca}
\ED{eisa}{pcca}{pcco}
\ED{eisa}{devgrowth}{growth}
\ED{epart}{devgrowth}{devproc}
\ED{eisa,thk}{dgim}{devgrowth}
\ED{epart}{dgim}{asm}
\ED{eisa}{devcellgrowth}{cellgrowth}
\ED{eisa,bend right=30}{devcellgrowth}{devgrowth}
\ED{epart}{devcellgrowth}{celldev}
\ED{eisa,thk}{cellgrowth}{growth}
\end{pgfonlayer}
\end{tikzpicture}
\end{document}
